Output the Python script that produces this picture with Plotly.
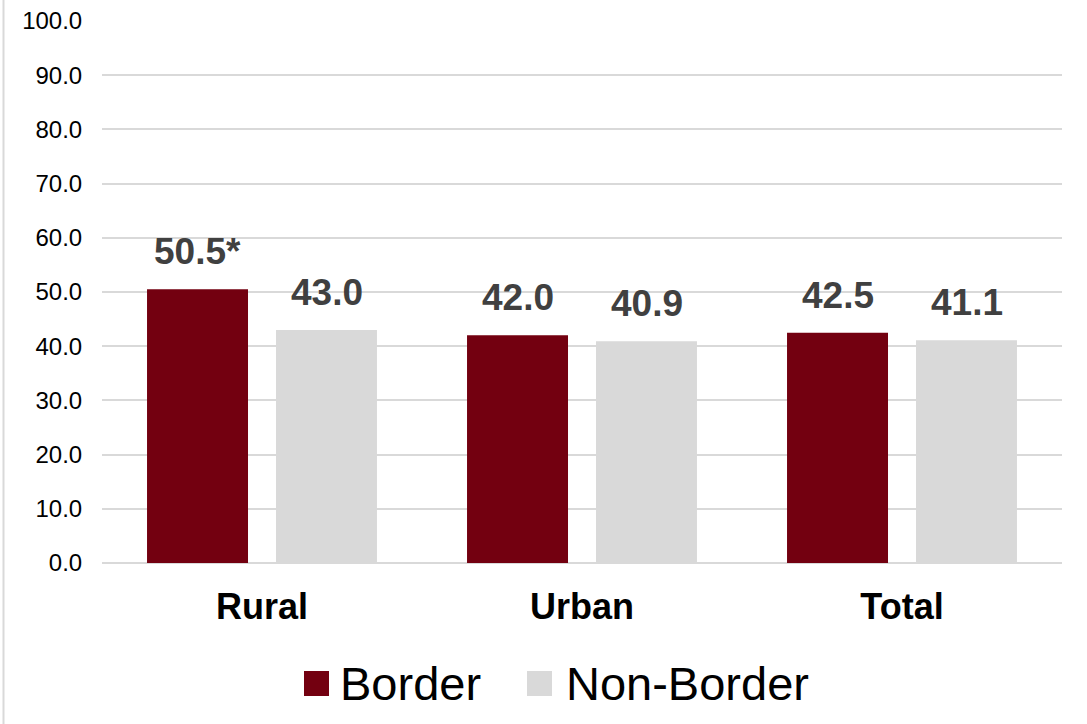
import plotly.graph_objects as go

categories = ["Rural", "Urban", "Total"]
series_names = ["Border", "Non-Border"]
border_values = [50.5, 42.0, 42.5]
nonborder_values = [43.0, 40.9, 41.1]
border_labels = ["50.5*", "42.0", "42.5"]
nonborder_labels = ["43.0", "40.9", "41.1"]
y_ticks = [0, 10, 20, 30, 40, 50, 60, 70, 80, 90, 100]

C_BORDER = "#730010"
C_NON = "#D9D9D9"
FONT = "Liberation Sans, Arial, sans-serif"

W, H = 1087, 724
ML, MR, MT, MB = 102, 25, 21, 161
PW, PH = W - ML - MR, H - MT - MB

fig = go.Figure()
fig.add_trace(go.Bar(name=series_names[0], x=categories, y=border_values,
                     marker=dict(color=C_BORDER, line=dict(width=0)), showlegend=False))
fig.add_trace(go.Bar(name=series_names[1], x=categories, y=nonborder_values,
                     marker=dict(color=C_NON, line=dict(width=0)), showlegend=False))

slot = 129
for vals, labs, shift in [(border_values, border_labels, -slot / 2), (nonborder_values, nonborder_labels, slot / 2)]:
    for c, v, t in zip(categories, vals, labs):
        fig.add_annotation(x=c, y=v, text=t, showarrow=False, xref="x", yref="y",
                           xanchor="center", yanchor="bottom", xshift=shift, yshift=15,
                           font=dict(family=FONT, size=37, color="#404040", weight="bold"))

def px_x(p):
    return (p - ML) / PW

def px_y(p):
    return (H - MB - p) / PH

shapes = [
    dict(type="line", xref="paper", yref="paper", x0=px_x(3.5), x1=px_x(3.5), y0=px_y(724), y1=px_y(0),
         line=dict(color="#D9D9D9", width=2)),
]
legend_items = [(series_names[0], C_BORDER, 304, 338), (series_names[1], C_NON, 527, 564)]
for name, col, sx, tx in legend_items:
    shapes.append(dict(type="rect", xref="paper", yref="paper", x0=px_x(sx), x1=px_x(sx + 25),
                       y0=px_y(696), y1=px_y(671), fillcolor=col, line=dict(width=0)))
    fig.add_annotation(x=px_x(tx), y=px_y(683), xref="paper", yref="paper", text=name,
                       showarrow=False, xanchor="left", yanchor="middle",
                       font=dict(family=FONT, size=47, color="#000000"))

fig.update_layout(
    width=W, height=H,
    margin=dict(l=ML, r=MR, t=MT, b=MB, pad=0, autoexpand=False),
    paper_bgcolor="white", plot_bgcolor="white",
    barmode="group", bargap=0.194, bargroupgap=0.217,
    shapes=shapes,
    font=dict(family=FONT, color="#000000"),
)
fig.update_xaxes(showgrid=False, showline=False, zeroline=False, automargin=False,
                 ticks="outside", ticklen=12, tickcolor="rgba(0,0,0,0)",
                 tickfont=dict(family=FONT, size=36, color="#000000", weight="bold"))
fig.update_yaxes(range=[0, 100], tickvals=y_ticks, tickformat=".1f", automargin=False,
                 showgrid=True, gridcolor="#D9D9D9", gridwidth=2,
                 zeroline=True, zerolinecolor="#D9D9D9", zerolinewidth=2,
                 showline=False, ticks="outside", ticklen=14, tickcolor="rgba(0,0,0,0)",
                 tickfont=dict(family=FONT, size=24, color="#000000"))

fig.write_html("out.html")
